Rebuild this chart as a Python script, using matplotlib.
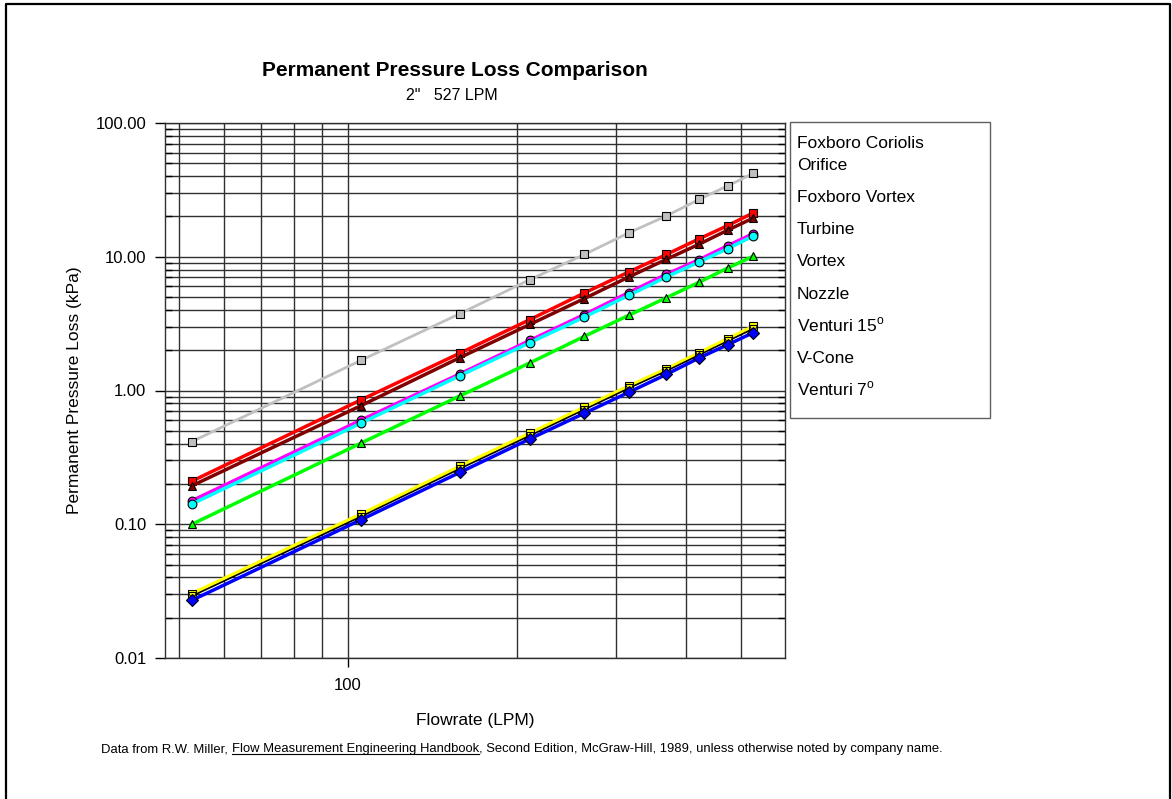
import matplotlib
matplotlib.use("Agg")
import matplotlib.pyplot as plt
from matplotlib.ticker import FixedLocator, FuncFormatter, NullFormatter, NullLocator
from matplotlib.lines import Line2D
import numpy as np

plt.rcParams['font.family'] = ['Liberation Sans', 'DejaVu Sans']
plt.rcParams['mathtext.fontset'] = 'custom'
plt.rcParams['mathtext.rm'] = 'Liberation Sans'

# ---------------- data ----------------
flow = [52.7, 105.4, 158.1, 210.8, 263.5, 316.2, 368.9, 421.6, 474.3, 527]
coriolis = [0.415, 1.68, 3.75, 6.75, 10.4, 15.1, 20.2, 26.8, 33.9, 42.0]
orifice = [0.21, 0.85, 1.9, 3.39, 5.36, 7.7, 10.4, 13.6, 17.1, 21.3]
fox_vortex = [0.194, 0.77, 1.76, 3.12, 4.87, 7.06, 9.57, 12.4, 15.8, 19.5]
turbine = [0.15, 0.60, 1.33, 2.37, 3.7, 5.4, 7.4, 9.5, 12.1, 14.9]
vortex = [0.1416, 0.57, 1.29, 2.28, 3.54, 5.15, 7.06, 9.14, 11.5, 14.3]
nozzle = [0.10, 0.404, 0.91, 1.61, 2.54, 3.65, 4.94, 6.44, 8.24, 10.1]
venturi15 = [0.0303, 0.119, 0.271, 0.48, 0.75, 1.08, 1.45, 1.91, 2.44, 3.01]
vcone = [0.029, 0.114, 0.26, 0.46, 0.72, 1.04, 1.40, 1.84, 2.34, 2.9]
venturi7 = [0.027, 0.108, 0.244, 0.435, 0.676, 0.97, 1.32, 1.75, 2.2, 2.71]

labels = ["Foxboro Coriolis", "Orifice", "Foxboro Vortex", "Turbine", "Vortex",
          "Nozzle", r"Venturi 15$^{\mathrm{o}}$", "V-Cone", r"Venturi 7$^{\mathrm{o}}$"]
y_ticks = [0.01, 0.1, 1, 10, 100]
x_tick_labels = [100]

W, H = 1172, 799
fig = plt.figure(figsize=(W / 100, H / 100), dpi=100)

def fx(px):
    return px / W

def fy(py):
    return 1 - py / H

ax = fig.add_axes([fx(165), fy(658), fx(785) - fx(165), fy(123) - fy(658)])
ax.set_xscale('log')
ax.set_yscale('log')
ax.set_xlim(47.2, 600)
ax.set_ylim(0.01, 100)

# grid
grid_kw = dict(color='#303030', lw=1.0, zorder=0.5)
xgrid = [50, 60, 70, 80, 90, 100, 200, 300, 400, 500]
for g in xgrid:
    ax.axvline(g, **grid_kw)
ygrid = [m * 10.0 ** e for e in range(-2, 2) for m in range(1, 10)] + [100]
for g in ygrid:
    ax.axhline(g, **grid_kw)

series = [
    (coriolis, '#C0C0C0', 's', '#C0C0C0', 2.0),
    (orifice, '#FF0000', 's', '#FF0000', 2.5),
    (fox_vortex, '#800000', '^', '#800000', 2.5),
    (turbine, '#FF00FF', 'o', '#FF00FF', 2.5),
    (vortex, '#00FFFF', 'o', '#00FFFF', 2.5),
    (nozzle, '#00FF00', '^', '#00FF00', 2.5),
    (venturi15, '#FFFF00', 's', '#FFFF00', 2.5),
    (vcone, '#000000', 'v', '#FFFF00', 1.2),
    (venturi7, '#0000FF', 'D', '#0000FF', 2.5),
]
for vals, col, mk, mfc, lw in series:
    ax.plot(flow, vals, color=col, lw=lw, marker=mk, ms=6.3 if mk != 'D' else 5.8,
            mfc=mfc, mec='black', mew=0.8, zorder=3)

# ticks
ax.yaxis.set_major_locator(FixedLocator(y_ticks))
ax.yaxis.set_major_formatter(FuncFormatter(lambda v, p: f"{v:.2f}"))
ax.yaxis.set_minor_locator(FixedLocator([g for g in ygrid if g not in y_ticks]))
ax.yaxis.set_minor_formatter(NullFormatter())
ax.xaxis.set_major_locator(FixedLocator(x_tick_labels))
ax.xaxis.set_major_formatter(FuncFormatter(lambda v, p: f"{v:g}"))
ax.xaxis.set_minor_locator(NullLocator())
ax.tick_params(axis='y', which='major', direction='out', length=7.5, width=1, labelsize=12, pad=6)
ax.tick_params(axis='y', which='minor', direction='in', length=5, width=1, right=True)
ax.tick_params(axis='x', which='major', direction='out', length=6.5, width=1, labelsize=12, pad=8)
for s in ax.spines.values():
    s.set_color('#303030')
    s.set_linewidth(1.0)

ax.set_xlabel("Flowrate (LPM)", fontsize=12.5, labelpad=14)
ax.set_ylabel("Permanent Pressure Loss (kPa)", fontsize=12.5, labelpad=10)

# title
fig.text(fx(455), fy(70), "Permanent Pressure Loss Comparison", fontsize=15,
         fontweight='bold', ha='center', va='center')
fig.text(fx(452), fy(95), '2"   527 LPM', fontsize=11.5, ha='center', va='center')

# legend box (text only)
leg = plt.Rectangle((fx(790), fy(418)), fx(990) - fx(790), fy(122) - fy(418),
                    transform=fig.transFigure, fill=False, edgecolor='#606060', lw=1.0)
fig.add_artist(leg)
leg_y = [143, 165, 197, 229, 261, 294, 326, 358, 390]
for lab, yy in zip(labels, leg_y):
    fig.text(fx(797), fy(yy + 5), lab, fontsize=12.5, ha='left', va='baseline')

# footnote with underlined title
fig.canvas.draw()
renderer = fig.canvas.get_renderer()
parts = ["Data from R.W. Miller, ", "Flow Measurement Engineering Handbook",
         ", Second Edition, McGraw-Hill, 1989, unless otherwise noted by company name."]
xpos = 101
ybase = fy(752)
for i, p in enumerate(parts):
    t = fig.text(fx(xpos), ybase, p, fontsize=9.4, ha='left', va='baseline')
    bb = t.get_window_extent(renderer=renderer)
    if i == 1:
        fig.add_artist(Line2D([fx(bb.x0), fx(bb.x1)], [ybase - 2.0 / H, ybase - 2.0 / H],
                              transform=fig.transFigure, color='black', lw=0.8))
    xpos = bb.x1

# outer border
fig.add_artist(Line2D([fx(6), fx(6), fx(1170), fx(1170)], [fy(805), fy(4), fy(4), fy(805)],
                      transform=fig.transFigure, color='black', lw=1.6, clip_on=False))

fig.savefig("out.png", dpi=100)
